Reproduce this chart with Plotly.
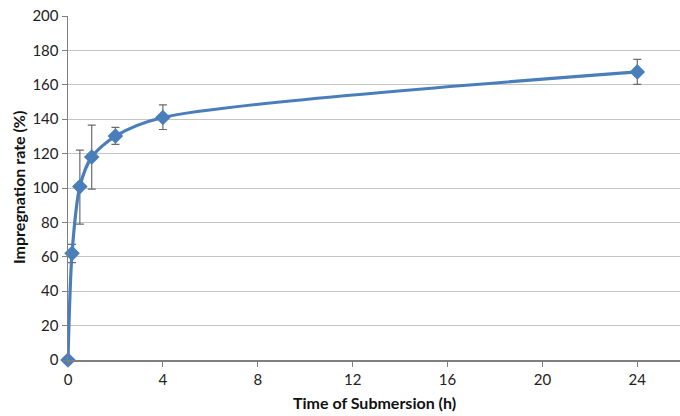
import plotly.graph_objects as go

time_h = [0, 0.17, 0.5, 1, 2, 4, 24]
impregnation = [0, 62, 100.8, 118, 130.2, 141, 167.5]
err_plus = [0, 5.2, 21.2, 18.6, 5.1, 7.3, 7.3]
err_minus = [0, 5.4, 21.8, 18.6, 4.8, 7.0, 7.3]
x_ticks = [0, 4, 8, 12, 16, 20, 24]
y_ticks = [0, 20, 40, 60, 80, 100, 120, 140, 160, 180, 200]
x_title = "Time of Submersion (h)"
y_title = "Impregnation rate (%)"

fig = go.Figure()
fig.add_trace(go.Scatter(
    x=time_h, y=impregnation,
    mode="lines+markers",
    line=dict(color="#4a7ebb", width=3.2, shape="spline", smoothing=0.8),
    marker=dict(symbol="diamond", size=12, color="#4a7ebb"),
    error_y=dict(type="data", symmetric=False, array=err_plus, arrayminus=err_minus,
                 color="#6b6b6b", thickness=1.2, width=4),
    showlegend=False,
    cliponaxis=False,
))

fig.add_annotation(text="<b>%s</b>" % x_title, xref="paper", yref="paper", x=0.5, y=0,
                   xanchor="center", yanchor="middle", yshift=-42, showarrow=False,
                   font=dict(family="Lato, sans-serif", size=16, color="#111111"))
fig.add_annotation(text="<b>%s</b>" % y_title, xref="paper", yref="paper", x=0, y=0.5,
                   xanchor="center", yanchor="middle", xshift=-50, textangle=-90, showarrow=False,
                   font=dict(family="Lato, sans-serif", size=16, color="#111111"))

fig.update_layout(
    width=680, height=416,
    margin=dict(l=68, r=0, t=16, b=56),
    paper_bgcolor="white", plot_bgcolor="white",
    font=dict(family="Lato, sans-serif", size=15, color="#222222"),
    xaxis=dict(
        range=[0, 25.8], tickvals=x_ticks, ticks="outside", ticklen=5, tickcolor="#7f7f7f",
        showline=True, linecolor="#7f7f7f", linewidth=1.5, showgrid=False, zeroline=False,
        automargin=False, tickfont=dict(size=15),
    ),
    yaxis=dict(
        range=[0, 200], tickvals=y_ticks, ticks="outside", ticklen=5, tickcolor="#7f7f7f",
        showline=True, linecolor="#7f7f7f", linewidth=1.5, showgrid=True, gridcolor="#c4c4c4",
        gridwidth=1, zeroline=False, automargin=False, tickfont=dict(size=15),
    ),
)

fig.write_html("out.html", config={"displayModeBar": False, "staticPlot": True},
               post_script="document.body.style.margin='0';document.body.style.overflow='hidden';")
